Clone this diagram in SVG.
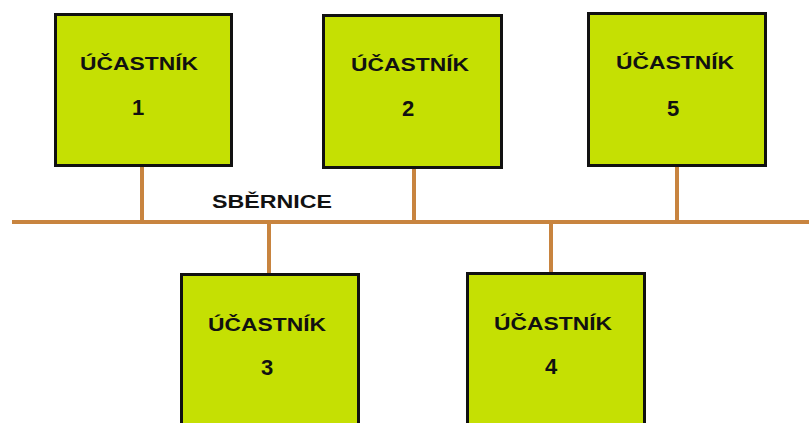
<svg xmlns="http://www.w3.org/2000/svg" width="809" height="423" viewBox="0 0 809 423">
<style>
.box{fill:#C5E003;stroke:#111;stroke-width:3}
.wire{stroke:#C8843F;stroke-width:4;fill:none}
.t{font-family:"Liberation Sans",Arial,sans-serif;font-weight:bold;fill:#111;text-anchor:middle}
.lbl{font-size:18px}
.num{font-size:22px}
</style>
<rect width="809" height="423" fill="#fff"/>
<g id="connectors">
<line class="wire" x1="12" y1="222" x2="809" y2="222"/>
<line class="wire" x1="142" y1="165" x2="142" y2="222"/>
<line class="wire" x1="414" y1="167" x2="414" y2="222"/>
<line class="wire" x1="677" y1="165" x2="677" y2="222"/>
<line class="wire" x1="269" y1="222" x2="269" y2="274"/>
<line class="wire" x1="551" y1="222" x2="551" y2="273"/>
</g>
<text class="t" x="272" y="208" font-size="19" textLength="120" lengthAdjust="spacingAndGlyphs">SBĚRNICE</text>
<g id="node1">
<rect class="box" x="55.5" y="14.5" width="176" height="151"/>
<text class="t lbl" x="139" y="70" textLength="118" lengthAdjust="spacingAndGlyphs">ÚČASTNÍK</text>
<text class="t num" x="138" y="115">1</text>
</g>
<g id="node2">
<rect class="box" x="323.5" y="15.5" width="178" height="152"/>
<text class="t lbl" x="410" y="71" textLength="118" lengthAdjust="spacingAndGlyphs">ÚČASTNÍK</text>
<text class="t num" x="408" y="116">2</text>
</g>
<g id="node5">
<rect class="box" x="588.5" y="13.5" width="177" height="152"/>
<text class="t lbl" x="675" y="69" textLength="118" lengthAdjust="spacingAndGlyphs">ÚČASTNÍK</text>
<text class="t num" x="673" y="116">5</text>
</g>
<g id="node3">
<rect class="box" x="181.5" y="274.5" width="177" height="160"/>
<text class="t lbl" x="267" y="331" textLength="118" lengthAdjust="spacingAndGlyphs">ÚČASTNÍK</text>
<text class="t num" x="267" y="375">3</text>
</g>
<g id="node4">
<rect class="box" x="467.5" y="273.5" width="177" height="160"/>
<text class="t lbl" x="553" y="330" textLength="118" lengthAdjust="spacingAndGlyphs">ÚČASTNÍK</text>
<text class="t num" x="551" y="374">4</text>
</g>
</svg>
